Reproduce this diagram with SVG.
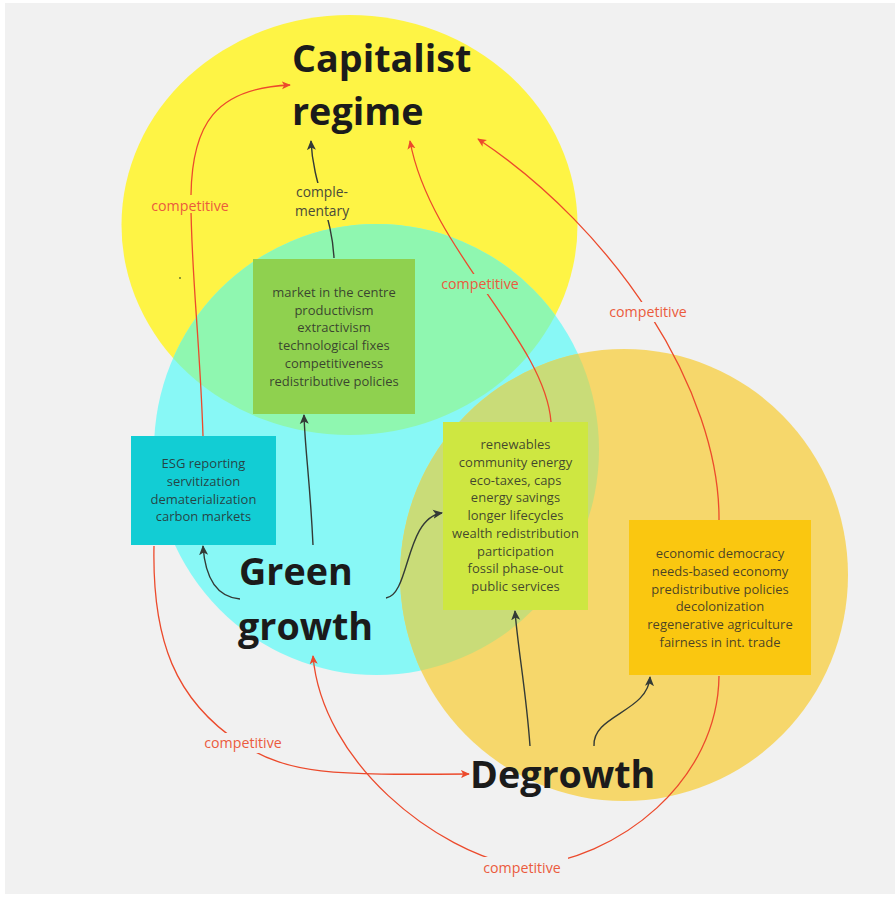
<svg xmlns="http://www.w3.org/2000/svg" width="895" height="897" viewBox="0 0 895 897">
  <style>
    .title { font-family: "Open Sans", "Liberation Sans", sans-serif; font-weight: 700; font-size: 37.7px; fill: #1b1b1b; }
    .item { font-family: "Open Sans", "Liberation Sans", sans-serif; font-size: 13px; fill: #2a2a2a; fill-opacity: 0.85; text-anchor: middle; }
    .lbl-red { font-family: "Open Sans", "Liberation Sans", sans-serif; font-size: 14.2px; fill: #eb5b3d; text-anchor: middle; }
    .lbl-dark { font-family: "Open Sans", "Liberation Sans", sans-serif; font-size: 13.8px; fill: #4a4a3a; text-anchor: middle; }
    .red { fill: none; stroke: #ec4a2c; stroke-width: 1.3; }
    .dark { fill: none; stroke: #333a36; stroke-width: 1.4; }
  </style>
  <defs>
    <marker id="arrow-red" viewBox="0 0 10 10" refX="9" refY="5" markerWidth="9" markerHeight="9" markerUnits="userSpaceOnUse" orient="auto">
      <path d="M0,0.5 L10,5 L0,9.5 L2.5,5 z" fill="#ec4a2c"/>
    </marker>
    <marker id="arrow-dark" viewBox="0 0 10 10" refX="9" refY="5" markerWidth="10" markerHeight="10" markerUnits="userSpaceOnUse" orient="auto">
      <path d="M0,0.5 L10,5 L0,9.5 L2.5,5 z" fill="#333a36"/>
    </marker>
    <clipPath id="clip-yellow">
      <ellipse cx="349.5" cy="225" rx="228" ry="210"/>
    </clipPath>
    <clipPath id="clip-cyan">
      <ellipse cx="376.5" cy="449.5" rx="222.5" ry="225.5"/>
    </clipPath>
    <!-- gaps in the connectors behind their labels -->
    <mask id="label-gaps" maskUnits="userSpaceOnUse" x="0" y="0" width="895" height="897">
      <rect x="0" y="0" width="895" height="897" fill="#fff"/>
      <rect x="146" y="195" width="88" height="18" fill="#000"/>
      <rect x="290" y="183" width="64" height="37" fill="#000"/>
      <rect x="435" y="274" width="90" height="20" fill="#000"/>
      <rect x="603" y="302" width="90" height="20" fill="#000"/>
      <rect x="198" y="733" width="90" height="20" fill="#000"/>
      <rect x="476" y="857" width="92" height="20" fill="#000"/>
    </mask>
  </defs>

  <!-- canvas -->
  <rect x="0" y="0" width="895" height="897" fill="#ffffff"/>
  <rect x="5" y="3" width="890" height="891" fill="#f1f1f1"/>

  <!-- regime areas -->
  <g id="areas">
    <ellipse id="area-capitalist" cx="349.5" cy="225" rx="228" ry="210" fill="#fef445"/>
    <ellipse id="area-green" cx="376.5" cy="449.5" rx="222.5" ry="225.5" fill="#88f8f6"/>
    <ellipse cx="376.5" cy="449.5" rx="222.5" ry="225.5" fill="#8ff7b0" clip-path="url(#clip-yellow)"/>
    <ellipse id="area-degrowth" cx="624" cy="575" rx="224" ry="226" fill="#f6d76b"/>
    <ellipse cx="624" cy="575" rx="224" ry="226" fill="#c9dc78" clip-path="url(#clip-cyan)"/>
    <circle cx="180" cy="278" r="0.9" fill="#5a6a2a"/>
  </g>

  <!-- connectors -->
  <g id="connectors" mask="url(#label-gaps)">
    <!-- ESG box to Capitalist regime -->
    <path class="red" d="M203 436 C200 340 190 260 191 195 C192 125 215 88 290 85" marker-end="url(#arrow-red)"/>
    <!-- core box to Capitalist regime (complementary) -->
    <path class="dark" d="M334 258 C332 215 313 185 311 141" marker-end="url(#arrow-dark)"/>
    <!-- transition box to Capitalist regime -->
    <path class="red" d="M551 422 C545 340 430 250 410 141" marker-end="url(#arrow-red)"/>
    <!-- degrowth box to Capitalist regime -->
    <path class="red" d="M719 520 C720 390 615 230 478 139" marker-end="url(#arrow-red)"/>
    <!-- Green growth to core box -->
    <path class="dark" d="M313 545 C310 480 305 450 304 415" marker-end="url(#arrow-dark)"/>
    <!-- Green growth to ESG box -->
    <path class="dark" d="M240 599 C215 597 205 575 203 546" marker-end="url(#arrow-dark)"/>
    <!-- Green growth to transition box -->
    <path class="dark" d="M386 598 C410 595 405 518 442 513" marker-end="url(#arrow-dark)"/>
    <!-- Degrowth to transition box -->
    <path class="dark" d="M530 746 C526 690 518 650 515 611" marker-end="url(#arrow-dark)"/>
    <!-- Degrowth to degrowth box -->
    <path class="dark" d="M594 746 C592 715 648 712 650 677" marker-end="url(#arrow-dark)"/>
    <!-- ESG box to Degrowth -->
    <path class="red" d="M154 546 C152 640 175 700 240 743 C290 775 330 775 469 774" marker-end="url(#arrow-red)"/>
    <!-- degrowth box to Green growth -->
    <path class="red" d="M719 676 C718 780 620 860 522 867 C435 852 322 762 313 656" marker-end="url(#arrow-red)"/>
  </g>

  <!-- connector labels -->
  <g id="connector-labels">
    <text class="lbl-red" x="190" y="211">competitive</text>
    <text class="lbl-dark" x="322" y="197">comple-</text>
    <text class="lbl-dark" x="322" y="216">mentary</text>
    <text class="lbl-red" x="480" y="289">competitive</text>
    <text class="lbl-red" x="648" y="317">competitive</text>
    <text class="lbl-red" x="243" y="748">competitive</text>
    <text class="lbl-red" x="522" y="873">competitive</text>
  </g>

  <!-- regime titles -->
  <g id="capitalist-regime">
    <text class="title" x="292" y="72">Capitalist</text>
    <text class="title" x="292" y="125">regime</text>
  </g>
  <g id="green-growth">
    <text class="title" x="239" y="585">Green</text>
    <text class="title" x="238" y="640">growth</text>
  </g>
  <g id="degrowth">
    <text class="title" x="470" y="788">Degrowth</text>
  </g>

  <!-- feature boxes -->
  <g id="core-features">
    <rect x="253" y="259" width="162" height="155" fill="#8fd14f"/>
    <text class="item" x="334" y="297">market in the centre</text>
    <text class="item" x="334" y="314.7">productivism</text>
    <text class="item" x="334" y="332.4">extractivism</text>
    <text class="item" x="334" y="350.1">technological fixes</text>
    <text class="item" x="334" y="367.8">competitiveness</text>
    <text class="item" x="334" y="385.5">redistributive policies</text>
  </g>
  <g id="green-growth-features">
    <rect x="131" y="436" width="145" height="109" fill="#12cdd4"/>
    <text class="item" x="203.5" y="468.3">ESG reporting</text>
    <text class="item" x="203.5" y="486">servitization</text>
    <text class="item" x="203.5" y="503.7">dematerialization</text>
    <text class="item" x="203.5" y="521.4">carbon markets</text>
  </g>
  <g id="transition-features">
    <rect x="443" y="422" width="145" height="188" fill="#cee741"/>
    <text class="item" x="515.5" y="449.3">renewables</text>
    <text class="item" x="515.5" y="467">community energy</text>
    <text class="item" x="515.5" y="484.7">eco-taxes, caps</text>
    <text class="item" x="515.5" y="502.4">energy savings</text>
    <text class="item" x="515.5" y="520.1">longer lifecycles</text>
    <text class="item" x="515.5" y="537.8">wealth redistribution</text>
    <text class="item" x="515.5" y="555.5">participation</text>
    <text class="item" x="515.5" y="573.2">fossil phase-out</text>
    <text class="item" x="515.5" y="590.9">public services</text>
  </g>
  <g id="degrowth-features">
    <rect x="629" y="520" width="182" height="155" fill="#fac710"/>
    <text class="item" x="720" y="558.3">economic democracy</text>
    <text class="item" x="720" y="576">needs-based economy</text>
    <text class="item" x="720" y="593.7">predistributive policies</text>
    <text class="item" x="720" y="611.4">decolonization</text>
    <text class="item" x="720" y="629.1">regenerative agriculture</text>
    <text class="item" x="720" y="646.8">fairness in int. trade</text>
  </g>
</svg>
